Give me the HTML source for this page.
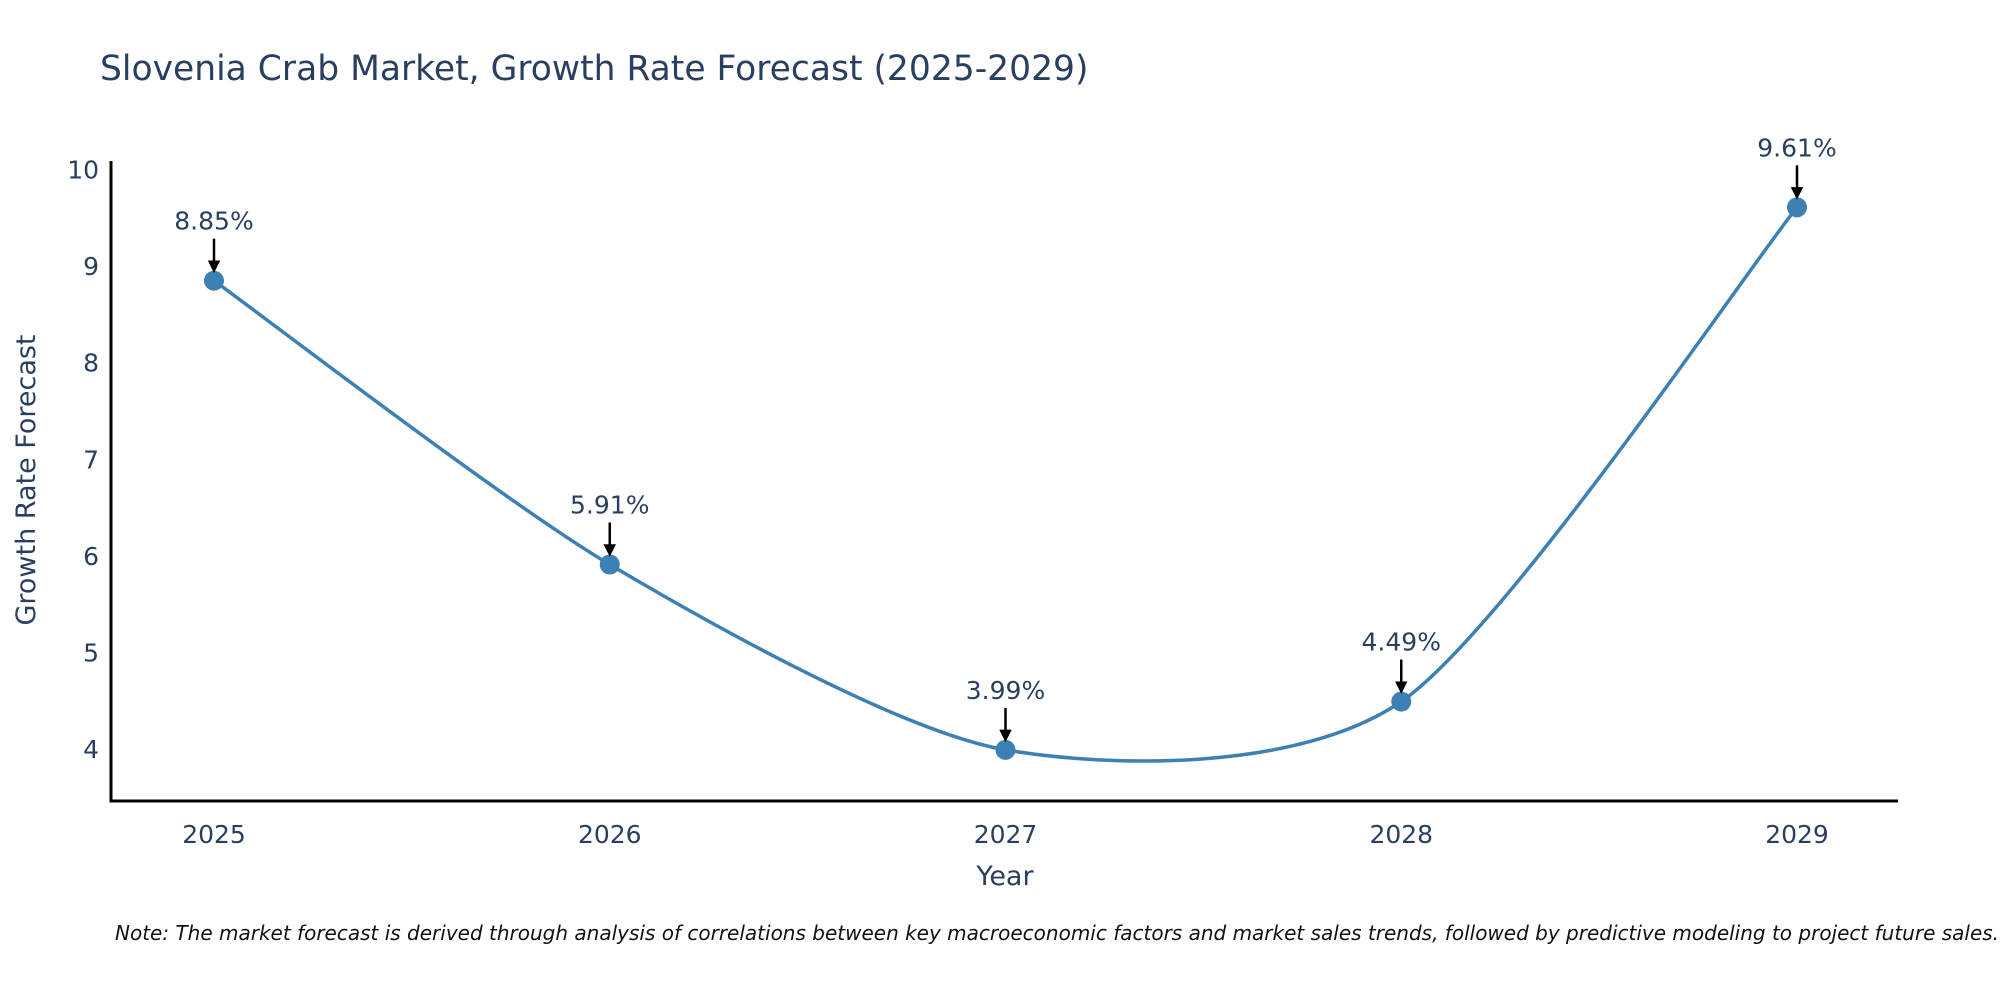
<!DOCTYPE html>
<html><head><meta charset="utf-8"><style>
body{margin:0;background:#fff;}
svg{display:block;}
text{font-family:"DejaVu Sans","Liberation Sans",sans-serif;fill:#2a3f5f;}
</style></head><body>
<svg id="chart" width="2000" height="1000" xmlns="http://www.w3.org/2000/svg">
<defs><marker id="ah" markerWidth="5" markerHeight="5" refX="2.5" refY="2.5" orient="auto" markerUnits="strokeWidth"><path d="M0,0 L5,2.5 L0,5 z" fill="#000"/></marker></defs>
<text x="100" y="80" font-size="34.5">Slovenia Crab Market, Growth Rate Forecast (2025-2029)</text>
<g id="plot"></g>
<text x="1005" y="885" font-size="27" text-anchor="middle">Year</text>
<text transform="translate(35,480) rotate(-90)" font-size="27" text-anchor="middle">Growth Rate Forecast</text>
<text x="115" y="940" font-size="20" font-style="italic" style="fill:#111">Note: The market forecast is derived through analysis of correlations between key macroeconomic factors and market sales trends, followed by predictive modeling to project future sales.</text>
</svg>
<script>
const years = ["2025","2026","2027","2028","2029"];
const values = [8.85, 5.91, 3.99, 4.49, 9.61];
const labels = ["8.85%","5.91%","3.99%","4.49%","9.61%"];
const yTicks = [4,5,6,7,8,9,10];

const NS="http://www.w3.org/2000/svg";
const g=document.getElementById('plot');
const L=111,R=1898,T=161,B=801;
const x0=214,xStep=395.75;
const yMin=3.46,yMax=10.09;
function xs(i){return x0+i*xStep;}
function ys(v){return B-(v-yMin)/(yMax-yMin)*(B-T);}
function mk(tag,attrs){const e=document.createElementNS(NS,tag);for(const k in attrs)e.setAttribute(k,attrs[k]);g.appendChild(e);return e;}

yTicks.forEach(t=>{
  const e=mk('text',{x:L-12,y:ys(t)+9,'font-size':25,'text-anchor':'end'});
  e.textContent=t;
  
  
});
years.forEach((yr,i)=>{
  const e=mk('text',{x:xs(i),y:B+42,'font-size':25,'text-anchor':'middle'});
  e.textContent=yr;
  
  
});
const ya=mk('line',{x1:L,y1:T,x2:L,y2:B+1.5,stroke:'#000','stroke-width':3});


const xa=mk('line',{x1:L-1.5,y1:B,x2:R,y2:B,stroke:'#000','stroke-width':3});



const pts=values.map((v,i)=>[xs(i),ys(v)]);
let d=`M${pts[0][0]},${pts[0][1]}`;
const k=0.13;
for(let i=0;i<pts.length-1;i++){
  const p0=pts[Math.max(0,i-1)],p1=pts[i],p2=pts[i+1],p3=pts[Math.min(pts.length-1,i+2)];
  const c1=[p1[0]+(p2[0]-p0[0])*k,p1[1]+(p2[1]-p0[1])*k];
  const c2=[p2[0]-(p3[0]-p1[0])*k,p2[1]-(p3[1]-p1[1])*k];
  d+=` C${c1[0]},${c1[1]} ${c2[0]},${c2[1]} ${p2[0]},${p2[1]}`;
}
const line=mk('path',{d:d,fill:'none',stroke:'#3d80b3','stroke-width':3.5});



pts.forEach((p,i)=>{
  const c=mk('circle',{cx:p[0],cy:p[1],r:10,fill:'#3d80b3'});
  
  
  const a=mk('line',{x1:p[0],y1:p[1]-42,x2:p[0],y2:p[1]-14,stroke:'#000','stroke-width':2.5,'marker-end':'url(#ah)'});
  
  
  const t=mk('text',{x:p[0],y:p[1]-51,'font-size':25,'text-anchor':'middle'});
  t.textContent=labels[i];
  
  
});
</script>
</body></html>
